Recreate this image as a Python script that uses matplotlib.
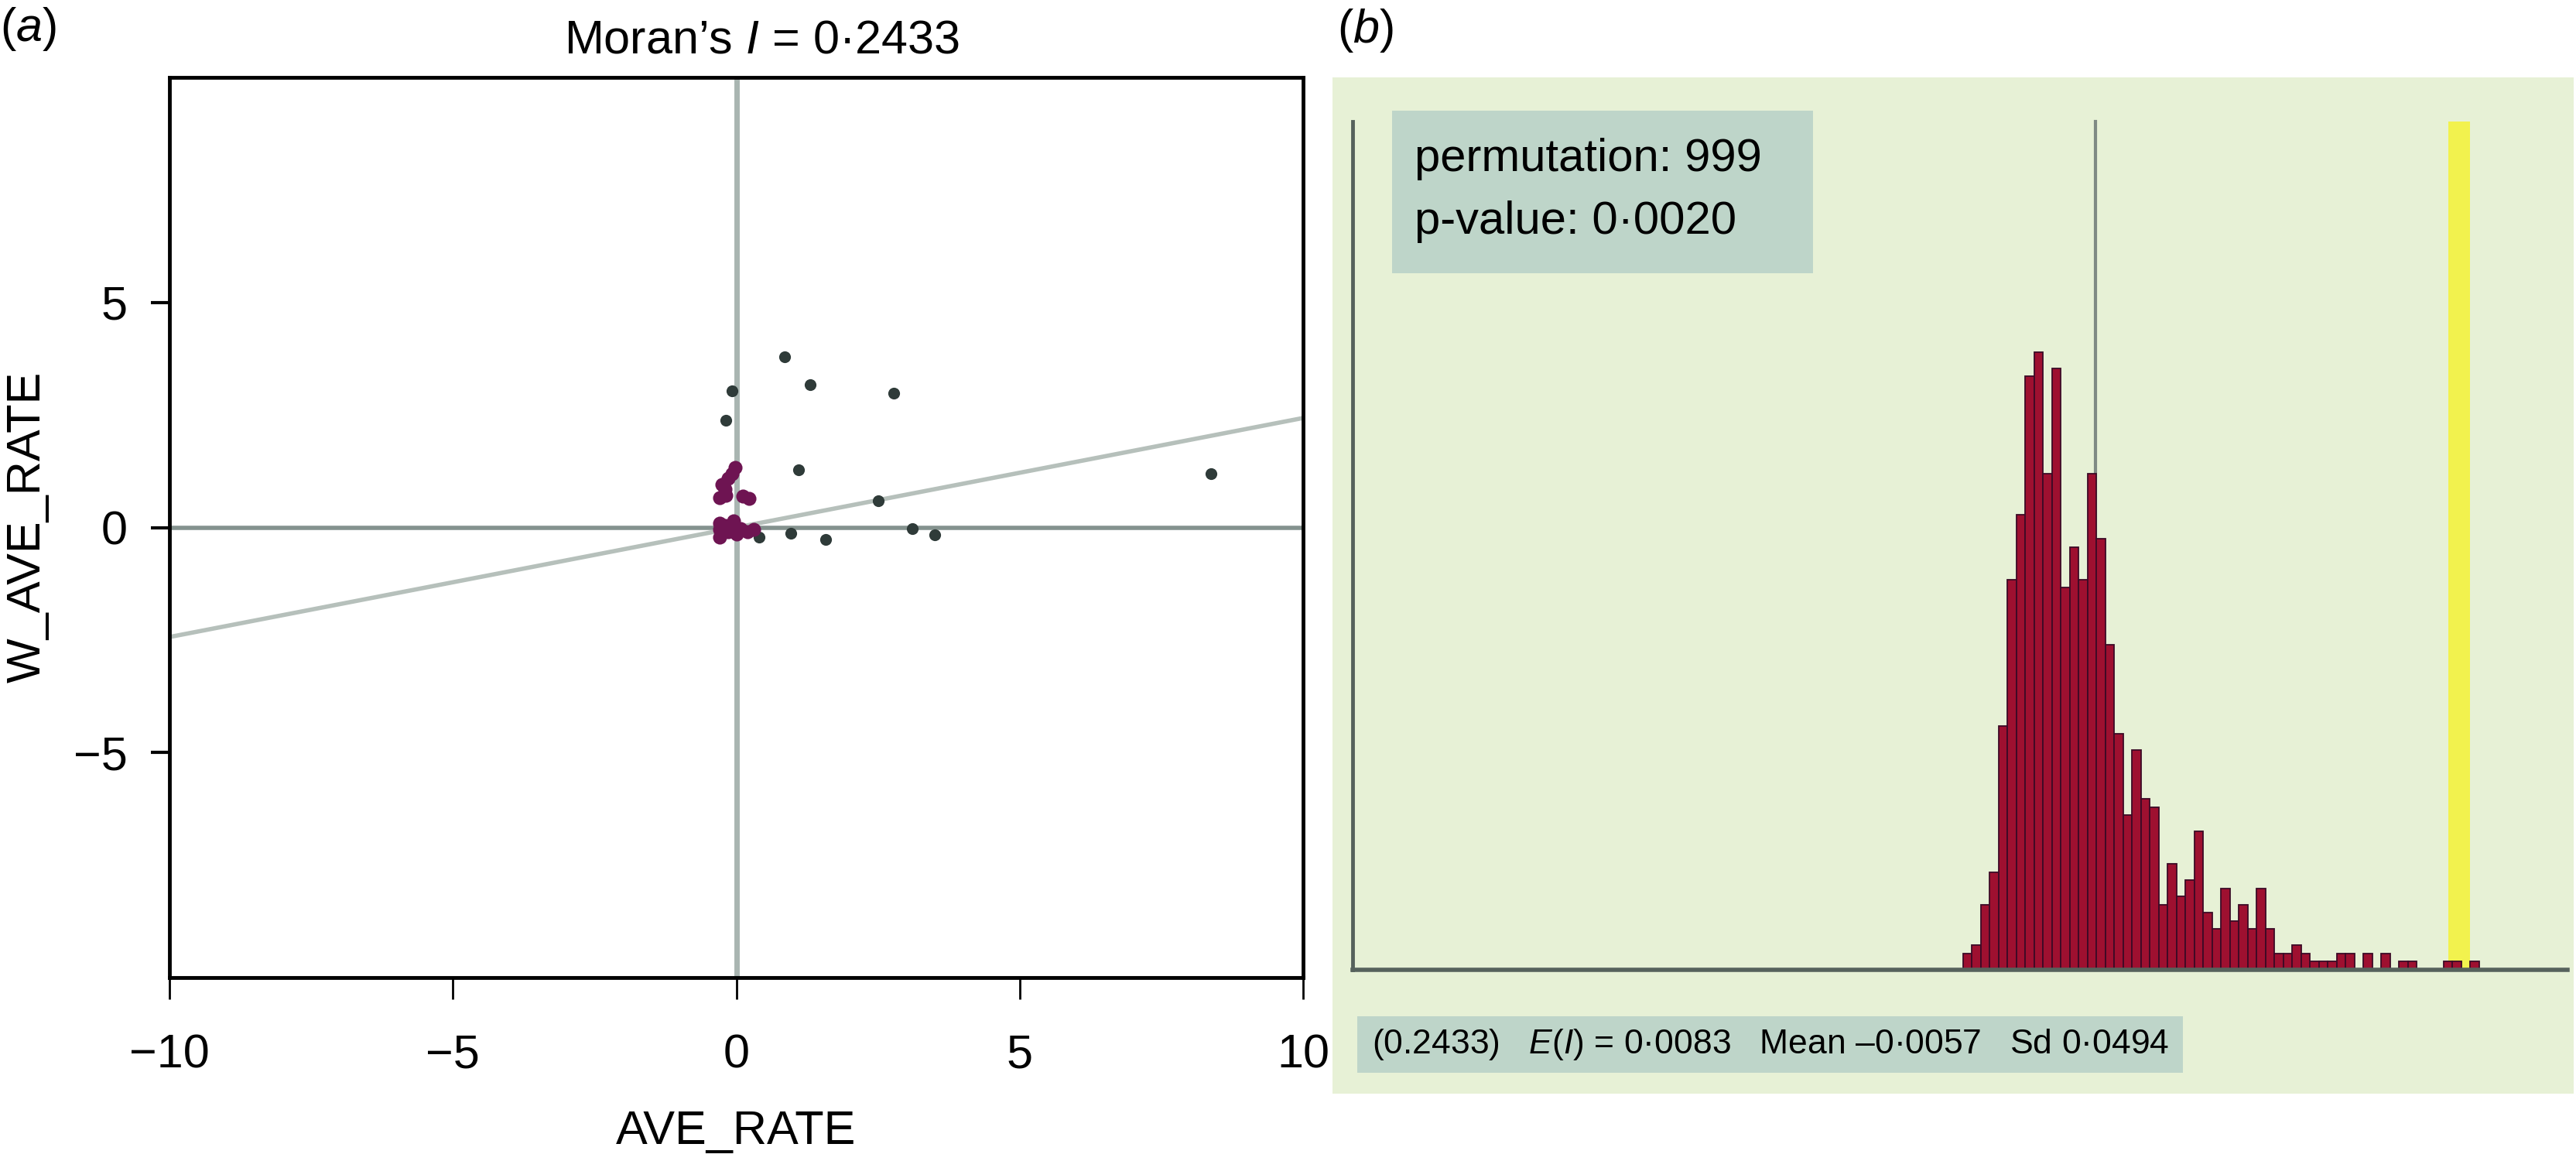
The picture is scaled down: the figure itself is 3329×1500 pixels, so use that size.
import matplotlib
matplotlib.use("Agg")
import matplotlib.pyplot as plt
from matplotlib.patches import Rectangle
import numpy as np

plt.rcParams['font.family'] = ['Liberation Sans', 'DejaVu Sans']
plt.rcParams['mathtext.fontset'] = 'custom'
plt.rcParams['mathtext.rm'] = 'Liberation Sans'
plt.rcParams['mathtext.it'] = 'Liberation Sans:italic'

# ---------------- data ----------------
moran_I = 0.2433
expected_I = 0.0083
# scatter: dark (ordinary) points
dark_x = [0.85, 1.31, 2.78, -0.08, -0.19, 1.10, 2.51, 8.38, 0.96, 1.57, 3.10, 3.50, 0.40]
dark_y = [3.79, 3.17, 2.98, 3.04, 2.39, 1.28, 0.59, 1.19, -0.13, -0.26, -0.02, -0.16, -0.22]
# scatter: highlighted (purple) points near the origin
sel_x = [-0.02, -0.08, -0.15, -0.25, -0.20, -0.29, -0.18, 0.22, 0.12, -0.29, -0.20,
         -0.10, 0.08, -0.29, -0.15, 0.20, -0.30, 0.00, 0.30, -0.05]
sel_y = [1.33, 1.20, 1.10, 0.95, 0.85, 0.67, 0.72, 0.64, 0.70, 0.09, 0.05,
         0.00, -0.02, -0.22, -0.10, -0.10, -0.05, -0.15, -0.05, 0.15]
x_ticks = [-10, -5, 0, 5, 10]
y_ticks = [-5, 0, 5]

# permutation reference distribution (999 permutations)
hist_start = -0.0772
bin_width = 0.00575
hist_counts = [2, 3, 8, 12, 30, 48, 56, 73, 76, 61, 74, 47, 52, 48, 61, 53, 40, 29,
               19, 27, 21, 20, 8, 13, 9, 11, 17, 7, 5, 10, 6, 8, 5, 10, 5, 2, 2, 3,
               2, 1, 1, 1, 2, 2, 0, 2, 0, 2, 0, 1, 1, 0, 0, 0, 1, 1, 0, 1]
n_perm = 999
p_value = "0·0020"
perm_mean = "–0·0057"
perm_sd = "0·0494"

# ---------------- figure ----------------
fig = plt.figure(figsize=(33.3, 15), dpi=100)

# ----- panel (a): Moran scatter plot -----
ax = fig.add_axes([0.0658, 0.158, 0.4399, 0.7753])
ax.set_xlim(-10, 10)
ax.set_ylim(-10, 10)
ax.axvline(0, color='#a9b5b1', lw=5, zorder=1)
ax.axhline(0, color='#84928e', lw=4, zorder=1)
ax.axline((0, 0), slope=moran_I, color='#b6c0bb', lw=4, zorder=1)
ax.scatter(dark_x, dark_y, s=120, color='#2f3b39', zorder=3, linewidths=0)
ax.scatter(sel_x, sel_y, s=170, color='#6e1452', zorder=4, linewidths=0)
ax.set_xticks(x_ticks)
ax.set_yticks(y_ticks)
ax.set_xticklabels([f"{t}".replace('-', '\u2212') for t in x_ticks])
ax.set_yticklabels([f"{t}".replace('-', '\u2212') for t in y_ticks])
ax.tick_params(axis='x', direction='out', length=20, width=2, pad=32, labelsize=44)
ax.tick_params(axis='y', direction='out', length=17, width=3, pad=22, labelsize=44)
for s in ax.spines.values():
    s.set_linewidth(3.5)
    s.set_color('black')

fig.text(951 / 3330, 1 - 1463 / 1500, 'AVE_RATE', fontsize=44, ha='center', va='center')
fig.text(36 / 3330, 1 - 681 / 1500, 'W_AVE_RATE', fontsize=44, ha='center', va='center',
         rotation=90)
fig.text(984 / 3330, 1 - 53 / 1500, "Moran’s $\\mathit{I}$ = 0·2433", fontsize=44,
         ha='center', va='center')
fig.text(0.0, 1 - 37 / 1500, "($\\mathit{a}$)", fontsize=44, ha='left', va='center')
fig.text(1728 / 3330, 1 - 40 / 1500, "($\\mathit{b}$)", fontsize=44, ha='left', va='center')

# ----- panel (b): permutation histogram -----
bx = fig.add_axes([1722 / 3330, 1 - 1413 / 1500, 1604 / 3330, 1313 / 1500])
bx.set_facecolor('#e7f1d6')
for s in bx.spines.values():
    s.set_visible(False)
bx.set_xticks([])
bx.set_yticks([])
bx.set_xlim(-0.4847, 0.3173)
bx.set_ylim(-15.24, 109.8)
base_frac = 160 / 1313
top_frac = (1413 - 157) / 1313

edges = hist_start + bin_width * np.arange(len(hist_counts))
bx.axvspan(moran_I - 0.007, moran_I + 0.007, ymin=base_frac, ymax=top_frac,
           color='#f2f24e', zorder=1, lw=0)
bx.bar(edges, hist_counts, width=bin_width, align='edge', color='#9e1030',
       edgecolor='#3c0a26', linewidth=1.3, zorder=3)
bx.axvline(expected_I, ymin=base_frac, ymax=top_frac, color='#7f8a84', lw=3, zorder=2)
bx.plot([0.016, 0.016], [base_frac, top_frac], transform=bx.transAxes,
        color='#56625c', lw=3.5, zorder=4)
bx.axhline(0, xmin=0.016, xmax=0.995, color='#56625c', lw=4, zorder=4)

# info boxes
bx.add_patch(Rectangle((0.048, 0.8073), 0.339, 0.16, transform=bx.transAxes,
                       facecolor='#bed5c9', edgecolor='none', zorder=5))
bx.text(0.066, 0.92, f"permutation: {n_perm}", transform=bx.transAxes,
        fontsize=43, va='center', ha='left', zorder=6)
bx.text(0.066, 0.8576, f"p-value: {p_value}", transform=bx.transAxes,
        fontsize=43, va='center', ha='left', zorder=6)

bx.add_patch(Rectangle((0.02, 0.0206), 0.665, 0.0556, transform=bx.transAxes,
                       facecolor='#bed5c9', edgecolor='none', zorder=5))
bottom_txt = (f"(0.2433)   $\\mathit{{E}}$($\\mathit{{I}}$) = 0·0083   "
              f"Mean {perm_mean}   Sd {perm_sd}")
bx.text(0.0318, 0.048, bottom_txt, transform=bx.transAxes, fontsize=32,
        va='center', ha='left', zorder=6)

fig.savefig('out.png', dpi=100)
